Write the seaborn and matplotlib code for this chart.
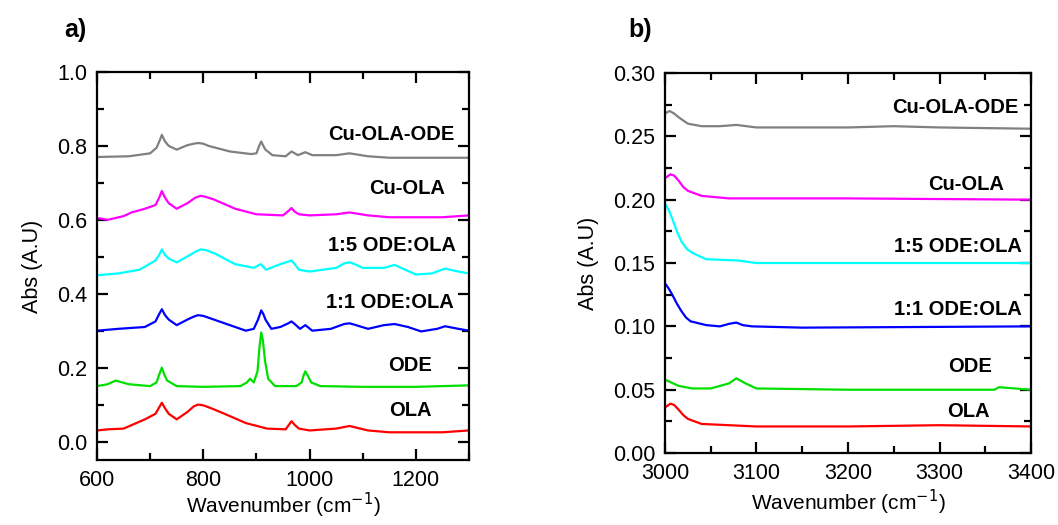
import numpy as np
import pandas as pd
import matplotlib
matplotlib.use("Agg")
import matplotlib.pyplot as plt
from matplotlib.ticker import MultipleLocator
import seaborn as sns

# ---------------- Panel a) data (600-1300 cm-1) ----------------
ola_a_x = [600, 620, 650, 690, 710, 718, 722, 728, 735, 750, 770, 782, 790, 800, 815, 840, 880, 920, 955, 961, 966, 972, 980, 1000, 1050, 1075, 1110, 1150, 1250, 1300]
ola_a_y = [0.030, 0.033, 0.035, 0.060, 0.075, 0.095, 0.105, 0.090, 0.075, 0.060, 0.080, 0.095, 0.100, 0.098, 0.090, 0.075, 0.050, 0.035, 0.033, 0.045, 0.055, 0.045, 0.035, 0.030, 0.035, 0.042, 0.030, 0.025, 0.025, 0.030]

ode_a_x = [600, 620, 635, 660, 700, 712, 718, 722, 727, 732, 750, 800, 870, 882, 888, 895, 902, 906, 909, 912, 916, 922, 935, 975, 985, 989, 992, 996, 1003, 1020, 1100, 1200, 1300]
ode_a_y = [0.150, 0.155, 0.165, 0.155, 0.150, 0.160, 0.185, 0.200, 0.180, 0.165, 0.150, 0.148, 0.150, 0.160, 0.170, 0.160, 0.190, 0.260, 0.295, 0.275, 0.220, 0.170, 0.150, 0.150, 0.160, 0.180, 0.190, 0.180, 0.160, 0.150, 0.148, 0.148, 0.152]

r11_a_x = [600, 640, 690, 710, 717, 722, 728, 735, 750, 770, 782, 790, 800, 810, 850, 880, 895, 903, 909, 913, 917, 928, 945, 960, 966, 972, 982, 992, 1005, 1040, 1065, 1075, 1085, 1110, 1140, 1160, 1185, 1210, 1240, 1255, 1280, 1300]
r11_a_y = [0.300, 0.305, 0.310, 0.325, 0.345, 0.358, 0.342, 0.330, 0.315, 0.330, 0.338, 0.342, 0.340, 0.335, 0.315, 0.300, 0.305, 0.330, 0.355, 0.345, 0.330, 0.305, 0.310, 0.320, 0.325, 0.318, 0.305, 0.315, 0.300, 0.305, 0.318, 0.320, 0.316, 0.305, 0.315, 0.318, 0.310, 0.298, 0.305, 0.312, 0.305, 0.300]

r15_a_x = [600, 640, 680, 710, 717, 722, 728, 735, 750, 775, 787, 795, 805, 820, 860, 895, 908, 918, 945, 960, 966, 972, 980, 1000, 1050, 1065, 1075, 1085, 1100, 1140, 1160, 1180, 1200, 1230, 1255, 1280, 1300]
r15_a_y = [0.450, 0.455, 0.465, 0.490, 0.505, 0.520, 0.505, 0.495, 0.485, 0.505, 0.515, 0.520, 0.518, 0.510, 0.480, 0.470, 0.480, 0.465, 0.480, 0.487, 0.490, 0.480, 0.465, 0.460, 0.470, 0.482, 0.485, 0.480, 0.470, 0.470, 0.478, 0.465, 0.452, 0.455, 0.468, 0.460, 0.455]

cuola_a_x = [600, 620, 650, 665, 690, 710, 717, 722, 728, 735, 750, 770, 785, 795, 805, 820, 860, 900, 950, 961, 966, 972, 980, 1000, 1050, 1075, 1110, 1150, 1250, 1300]
cuola_a_y = [0.605, 0.600, 0.610, 0.620, 0.630, 0.640, 0.660, 0.678, 0.660, 0.645, 0.630, 0.645, 0.660, 0.665, 0.662, 0.655, 0.630, 0.615, 0.612, 0.625, 0.632, 0.622, 0.615, 0.612, 0.615, 0.620, 0.612, 0.607, 0.607, 0.612]

cuolaode_a_x = [600, 660, 700, 712, 718, 722, 728, 735, 750, 770, 782, 790, 800, 810, 850, 890, 900, 905, 909, 913, 917, 930, 955, 966, 978, 992, 1005, 1050, 1075, 1110, 1150, 1300]
cuolaode_a_y = [0.770, 0.772, 0.780, 0.795, 0.815, 0.830, 0.812, 0.800, 0.790, 0.802, 0.806, 0.808, 0.806, 0.800, 0.785, 0.778, 0.780, 0.800, 0.812, 0.800, 0.790, 0.775, 0.772, 0.785, 0.775, 0.783, 0.775, 0.775, 0.780, 0.772, 0.768, 0.768]

# ---------------- Panel b) data (3000-3400 cm-1) ----------------
cuolaode_b_x = [3000, 3005, 3010, 3015, 3025, 3040, 3060, 3078, 3100, 3200, 3250, 3300, 3400]
cuolaode_b_y = [0.268, 0.270, 0.268, 0.265, 0.260, 0.258, 0.258, 0.259, 0.257, 0.257, 0.258, 0.257, 0.256]

cuola_b_x = [3000, 3006, 3010, 3015, 3020, 3025, 3040, 3070, 3200, 3400]
cuola_b_y = [0.217, 0.220, 0.219, 0.215, 0.210, 0.207, 0.203, 0.201, 0.201, 0.200]

r15_b_x = [3000, 3004, 3008, 3013, 3018, 3024, 3030, 3045, 3080, 3100, 3400]
r15_b_y = [0.197, 0.192, 0.185, 0.175, 0.167, 0.161, 0.158, 0.153, 0.152, 0.150, 0.150]

r11_b_x = [3000, 3004, 3008, 3013, 3018, 3023, 3028, 3045, 3060, 3070, 3078, 3085, 3095, 3150, 3400]
r11_b_y = [0.134, 0.130, 0.125, 0.118, 0.112, 0.107, 0.104, 0.101, 0.100, 0.102, 0.103, 0.101, 0.100, 0.099, 0.100]

ode_b_x = [3000, 3015, 3030, 3050, 3065, 3070, 3074, 3078, 3083, 3088, 3100, 3200, 3360, 3365, 3400]
ode_b_y = [0.058, 0.053, 0.051, 0.051, 0.054, 0.055, 0.057, 0.059, 0.057, 0.055, 0.051, 0.050, 0.050, 0.052, 0.050]

ola_b_x = [3000, 3006, 3010, 3014, 3020, 3025, 3040, 3070, 3100, 3200, 3300, 3400]
ola_b_y = [0.036, 0.039, 0.038, 0.035, 0.030, 0.027, 0.023, 0.022, 0.021, 0.021, 0.022, 0.021]

names = ["OLA", "ODE", "1:1 ODE:OLA", "1:5 ODE:OLA", "Cu-OLA", "Cu-OLA-ODE"]
colors = ["#ff0000", "#00e000", "#0000ff", "#00ffff", "#ff00ff", "#808080"]

series_a = [(ola_a_x, ola_a_y), (ode_a_x, ode_a_y), (r11_a_x, r11_a_y),
            (r15_a_x, r15_a_y), (cuola_a_x, cuola_a_y), (cuolaode_a_x, cuolaode_a_y)]
series_b = [(ola_b_x, ola_b_y), (ode_b_x, ode_b_y), (r11_b_x, r11_b_y),
            (r15_b_x, r15_b_y), (cuola_b_x, cuola_b_y), (cuolaode_b_x, cuolaode_b_y)]

# label positions (data coords, right-aligned)
lab_a = [(1230, 0.085), (1230, 0.205), (1272, 0.375), (1275, 0.530), (1255, 0.685), (1272, 0.830)]
lab_b = [(3355, 0.033), (3357, 0.068), (3390, 0.113), (3390, 0.163), (3370, 0.212), (3386, 0.273)]

sns.set_style("ticks")
plt.rcParams['font.family'] = ['Liberation Sans', 'DejaVu Sans']
plt.rcParams['text.color'] = 'black'
plt.rcParams['axes.labelcolor'] = 'black'
plt.rcParams['xtick.color'] = 'black'
plt.rcParams['ytick.color'] = 'black'

fig = plt.figure(figsize=(10.58, 5.25), dpi=100)
ax1 = fig.add_axes([0.0917, 0.1238, 0.3516, 0.739])
ax2 = fig.add_axes([0.6285, 0.137, 0.346, 0.724])

def draw(ax, series, labs):
    for (x, y), c, n, (lx, ly) in zip(series, colors, names, labs):
        df = pd.DataFrame({"x": x, "y": y})
        sns.lineplot(data=df, x="x", y="y", ax=ax, color=c, linewidth=1.6,
                     estimator=None, sort=False)
        ax.text(lx, ly, n, ha="right", va="center", fontsize=14.5, fontweight="bold",
                color="black")

draw(ax1, series_a, lab_a)
draw(ax2, series_b, lab_b)

ax1.set_xlim(600, 1300)
ax1.set_ylim(-0.05, 1.0)
ax1.xaxis.set_major_locator(MultipleLocator(200))
ax1.xaxis.set_minor_locator(MultipleLocator(100))
ax1.yaxis.set_major_locator(MultipleLocator(0.2))
ax1.yaxis.set_minor_locator(MultipleLocator(0.1))
ax1.yaxis.set_major_formatter(matplotlib.ticker.FormatStrFormatter('%.1f'))

ax2.set_xlim(3000, 3400)
ax2.set_ylim(0.0, 0.30)
ax2.xaxis.set_major_locator(MultipleLocator(100))
ax2.xaxis.set_minor_locator(MultipleLocator(50))
ax2.yaxis.set_major_locator(MultipleLocator(0.05))
ax2.yaxis.set_minor_locator(MultipleLocator(0.025))
ax2.yaxis.set_major_formatter(matplotlib.ticker.FormatStrFormatter('%.2f'))

for ax in (ax1, ax2):
    for s in ax.spines.values():
        s.set_visible(True)
        s.set_linewidth(1.6)
        s.set_color("black")
    ax.tick_params(which="both", direction="in", top=True, right=True,
                   width=1.6, color="black", labelcolor="black", labelsize=15.5, pad=7)
    ax.tick_params(which="major", length=8)
    ax.tick_params(which="minor", length=5)
    ax.set_ylabel("Abs (A.U)", fontsize=15.5, labelpad=10, color="black")

ax1.set_xlabel("Wavenumber (cm$^{-1}$)", fontsize=15, labelpad=0, color="black")
ax2.set_xlabel("Wavenumber (cm$^{-1}$)", fontsize=15, labelpad=3, color="black")

fig.text(75 / 1058, 1 - 30 / 525, "a)", fontsize=18, fontweight="bold", ha="center", va="center")
fig.text(640 / 1058, 1 - 30 / 525, "b)", fontsize=18, fontweight="bold", ha="center", va="center")

fig.savefig("out.png", dpi=100)
